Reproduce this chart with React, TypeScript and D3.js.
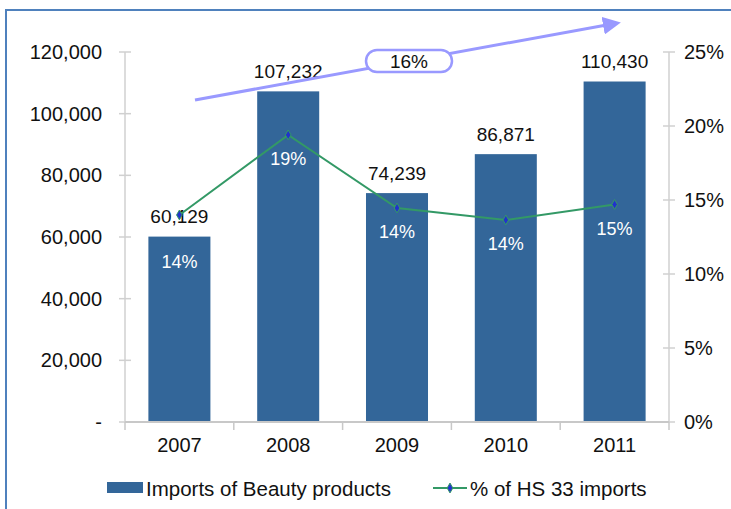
import React from "react";
import * as d3 from "d3";

const years = ["2007", "2008", "2009", "2010", "2011"];
const imports = [60129, 107232, 74239, 86871, 110430];
const shares = [0.1399, 0.194, 0.1446, 0.1365, 0.147];
const shareLabels = ["14%", "19%", "14%", "14%", "15%"];
const leftTicks = [0, 20000, 40000, 60000, 80000, 100000, 120000];
const rightTicks = [0, 0.05, 0.1, 0.15, 0.2, 0.25];
const growthLabel = "16%";

const W = 731, H = 509;
const X0 = 125, X1 = 669, Y0 = 422, Y1 = 52;

export default function App() {
  const x = d3.scaleBand<string>().domain(years).range([X0, X1]).paddingInner(0.43).paddingOuter(0.215);
  const yL = d3.scaleLinear().domain([0, 120000]).range([Y0, Y1]);
  const yR = d3.scaleLinear().domain([0, 0.25]).range([Y0, Y1]);
  const fmt = d3.format(",");
  const cx = (y: string) => (x(y) as number) + x.bandwidth() / 2;
  const line = d3.line<number>().x((_, i) => cx(years[i])).y((d) => yR(d));
  const font = "'Liberation Sans', Arial, sans-serif";
  const step = (X1 - X0) / years.length;
  const diamond = d3.symbol().type(d3.symbolDiamond).size(28)() as string;

  return (
    <svg width={W} height={H} style={{ position: "absolute", left: 0, top: 0 }} fontFamily={font}>
      <defs>
        <marker id="ah" markerWidth="6" markerHeight="6" refX="3" refY="3" orient="auto" markerUnits="strokeWidth">
          <path d="M0,0 L6,3 L0,6 Z" fill="#9999ff" />
        </marker>
      </defs>
      <rect x={0} y={0} width={W} height={H} fill="#fff" />
      <rect x={6} y={10} width={W + 10} height={H + 10} fill="none" stroke="#4f81bd" strokeWidth={2} />

      {/* left axis */}
      <line x1={X0} x2={X0} y1={Y1} y2={Y0} stroke="#d0d0d0" strokeWidth={1.5} />
      {leftTicks.map((t) => (
        <g key={t}>
          <line x1={X0 - 6} x2={X0 + 6} y1={yL(t)} y2={yL(t)} stroke="#d0d0d0" strokeWidth={1.5} />
          <text x={102} y={yL(t)} dy="0.35em" textAnchor="end" fontSize={20} fill="#111">
            {t === 0 ? "-" : fmt(t)}
          </text>
        </g>
      ))}
      {/* right axis */}
      <line x1={X1} x2={X1} y1={Y1} y2={Y0} stroke="#d0d0d0" strokeWidth={1.5} />
      {rightTicks.map((t) => (
        <g key={t}>
          <line x1={X1 - 6} x2={X1 + 6} y1={yR(t)} y2={yR(t)} stroke="#d0d0d0" strokeWidth={1.5} />
          <text x={684} y={yR(t)} dy="0.35em" textAnchor="start" fontSize={20} fill="#111">
            {Math.round(t * 100) + "%"}
          </text>
        </g>
      ))}

      {/* bars */}
      {years.map((y, i) => (
        <rect key={y} x={x(y)} y={yL(imports[i])} width={x.bandwidth()} height={Y0 - yL(imports[i])} fill="#336699" />
      ))}

      {/* x axis */}
      <line x1={X0} x2={X1} y1={Y0} y2={Y0} stroke="#c8c8c8" strokeWidth={2} />
      {d3.range(years.length + 1).map((i) => (
        <line key={i} x1={X0 + i * step} x2={X0 + i * step} y1={Y0} y2={Y0 + 8} stroke="#c8c8c8" strokeWidth={1.5} />
      ))}
      {years.map((y) => (
        <text key={y} x={cx(y)} y={445} dy="0.35em" textAnchor="middle" fontSize={20} fill="#111">{y}</text>
      ))}

      {/* bar labels */}
      {years.map((y, i) => (
        <text key={y} x={cx(y)} y={yL(imports[i]) - 20} dy="0.35em" textAnchor="middle" fontSize={19} fill="#111">
          {fmt(imports[i])}
        </text>
      ))}

      {/* line */}
      <path d={line(shares) as string} fill="none" stroke="#339966" strokeWidth={2} />
      {years.map((y, i) => (
        <path key={y} d={diamond} transform={`translate(${cx(y)},${yR(shares[i])})`} fill="#2233cc" stroke="#339966" strokeWidth={1} />
      ))}
      {years.map((y, i) => (
        <text key={y} x={cx(y)} y={Math.max(yR(shares[i]) + 24, yL(imports[i]) + 25)} dy="0.35em" textAnchor="middle" fontSize={18} fill="#fff">
          {shareLabels[i]}
        </text>
      ))}

      {/* growth arrow */}
      <line x1={195} y1={100} x2={612} y2={24} stroke="#9999ff" strokeWidth={3} markerEnd="url(#ah)" />
      <rect x={366} y={50} width={86} height={22} rx={11} fill="#fff" stroke="#9999ff" strokeWidth={2.5} />
      <text x={409} y={61} dy="0.35em" textAnchor="middle" fontSize={19} fill="#111">{growthLabel}</text>

      {/* legend */}
      <rect x={107} y={482} width={36} height={11} fill="#336699" />
      <text x={146} y={489} dy="0.35em" fontSize={20.5} fill="#111">Imports of Beauty products</text>
      <line x1={433} x2={467} y1={488} y2={488} stroke="#339966" strokeWidth={2} />
      <path d={diamond} transform="translate(450,488)" fill="#2233cc" stroke="#339966" strokeWidth={1} />
      <text x={470} y={489} dy="0.35em" fontSize={20.5} fill="#111">% of HS 33 imports</text>
    </svg>
  );
}
